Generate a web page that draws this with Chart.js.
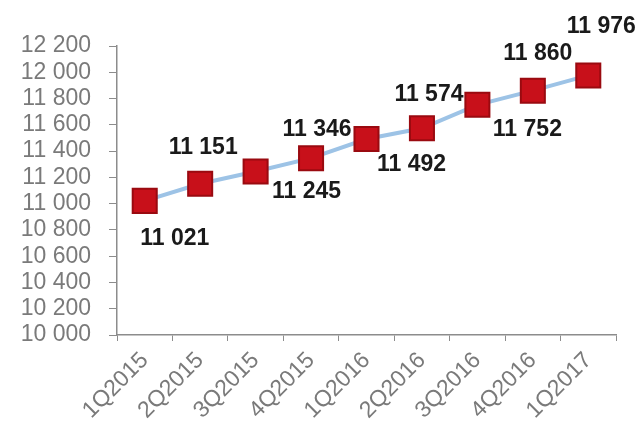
<!DOCTYPE html>
<html lang="ru">
<head>
<meta charset="UTF-8">
<title>Quarterly values</title>
<script src="https://cdn.jsdelivr.net/npm/chart.js"></script>
<style>
  html, body { margin: 0; padding: 0; background: #fff; }
  #wrap { width: 635px; height: 432px; position: relative; }
</style>
</head>
<body>
<div id="wrap"><canvas id="grafico"></canvas></div>
<script>
const quarters = ['1Q2015', '2Q2015', '3Q2015', '4Q2015', '1Q2016', '2Q2016', '3Q2016', '4Q2016', '1Q2017'];
const values = [11021, 11151, 11245, 11346, 11492, 11574, 11752, 11860, 11976];
const yMin = 10000;
const yMax = 12200;
const yStep = 200;

// where each value label sits relative to its marker (dx, dy in px)
const labelOffsets = [
  [30, 38], [3, -36], [51, 20], [6, -29], [45, 26],
  [7, -34], [50, 25], [5, -37], [13, -49]
];

function fmt(v) {
  return String(v).replace(/\B(?=(\d{3})+(?!\d))/g, ' ');
}

// value labels next to the markers
const valueLabels = {
  id: 'valueLabels',
  afterDatasetsDraw(chart) {
    const ctx = chart.ctx;
    const meta = chart.getDatasetMeta(0);
    ctx.save();
    ctx.font = 'bold 23px "Liberation Sans", Arial, sans-serif';
    ctx.fillStyle = '#1a1a1a';
    ctx.textAlign = 'center';
    ctx.textBaseline = 'middle';
    meta.data.forEach((pt, i) => {
      const off = labelOffsets[i];
      ctx.fillText(fmt(values[i]), pt.x + off[0], pt.y + off[1]);
    });
    ctx.restore();
  }
};

new Chart(document.getElementById('grafico'), {
  type: 'line',
  data: {
    labels: quarters,
    datasets: [{
      data: values,
      borderColor: '#9dc3e6',
      borderWidth: 4,
      tension: 0,
      pointStyle: 'rect',
      pointRadius: 17,
      pointHoverRadius: 17,
      pointBackgroundColor: '#c8101a',
      pointBorderColor: '#9a0a10',
      pointBorderWidth: 2
    }]
  },
  options: {
    responsive: true,
    maintainAspectRatio: false,
    animation: false,
    layout: { padding: { top: 46, right: 12, left: 0, bottom: 0 } },
    plugins: {
      legend: { display: false },
      tooltip: { enabled: false }
    },
    scales: {
      x: {
        offset: true,
        grid: {
          offset: true,
          drawOnChartArea: false,
          drawTicks: true,
          tickLength: 6,
          color: '#8c8c8c'
        },
        border: { display: true, color: '#8c8c8c', width: 1.5 },
        ticks: {
          color: '#7a7a7a',
          font: { family: '"Liberation Sans", Arial, sans-serif', size: 23 },
          minRotation: 45,
          maxRotation: 45,
          autoSkip: false,
          padding: 6
        },
        afterFit(scale) { scale.height = 97; }
      },
      y: {
        min: yMin,
        max: yMax,
        grid: {
          drawOnChartArea: false,
          drawTicks: true,
          tickLength: 8,
          color: '#8c8c8c'
        },
        border: { display: true, color: '#8c8c8c', width: 1.5 },
        ticks: {
          stepSize: yStep,
          autoSkip: false,
          color: '#7a7a7a',
          padding: 18,
          font: { family: '"Liberation Sans", Arial, sans-serif', size: 23, lineHeight: 1 },
          callback: v => fmt(v)
        },
        afterFit(scale) { scale.width = 117; }
      }
    }
  },
  plugins: [valueLabels]
});
</script>
</body>
</html>
